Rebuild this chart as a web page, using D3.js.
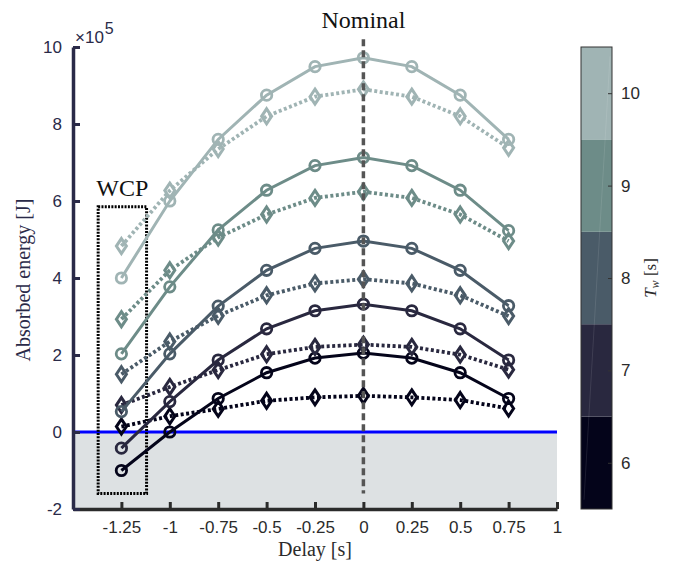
<!DOCTYPE html>
<html><head><meta charset="utf-8">
<script src="https://cdn.jsdelivr.net/npm/d3@7"></script>
<style>body{margin:0;background:#fff}svg{display:block}</style>
</head><body><svg id="c" width="683" height="565"></svg>
<script>
const delays = [-1.25, -1, -0.75, -0.5, -0.25, 0, 0.25, 0.5, 0.75];
const twValues = [6, 7, 8, 9, 10];
const twColors = ["#04041a", "#29283f", "#4a5b68", "#6d8c88", "#a0b4b4"];
// Absorbed energy (x 1e5 J), solid lines with circles
const solidTw6  = [-1.0, 0.0, 0.87, 1.54, 1.92, 2.05, 1.92, 1.54, 0.87];
const solidTw7  = [-0.42, 0.79, 1.87, 2.68, 3.15, 3.32, 3.15, 2.68, 1.87];
const solidTw8  = [0.53, 2.03, 3.27, 4.2, 4.77, 4.96, 4.77, 4.2, 3.28];
const solidTw9  = [2.03, 3.77, 5.25, 6.28, 6.92, 7.13, 6.92, 6.28, 5.23];
const solidTw10 = [4.0, 6.0, 7.6, 8.75, 9.49, 9.72, 9.49, 8.75, 7.6];
// dotted lines with diamonds
const dotTw6  = [0.14, 0.41, 0.6, 0.81, 0.9, 0.94, 0.9, 0.83, 0.61];
const dotTw7  = [0.7, 1.17, 1.61, 2.02, 2.21, 2.27, 2.21, 2.01, 1.62];
const dotTw8  = [1.5, 2.35, 3.02, 3.55, 3.86, 3.97, 3.86, 3.55, 3.01];
const dotTw9  = [2.93, 4.2, 5.05, 5.65, 6.08, 6.24, 6.08, 5.65, 4.96];
const dotTw10 = [4.83, 6.27, 7.35, 8.2, 8.71, 8.9, 8.71, 8.2, 7.38];
const xTicks = [-1.25, -1, -0.75, -0.5, -0.25, 0, 0.25, 0.5, 0.75, 1];
const xTickLabels = ["-1.25", "-1", "-0.75", "-0.5", "-0.25", "0", "0.25", "0.5", "0.75", "1"];
const yTicks = [-2, 0, 2, 4, 6, 8, 10];
const yTickLabels = ["-2", "0", "2", "4", "6", "8", "10"];
const cbTickLabels = ["6", "7", "8", "9", "10"];
const wcpBox = {x0: -1.37, x1: -1.12, y0: -1.6, y1: 5.85};

const solids = [solidTw6, solidTw7, solidTw8, solidTw9, solidTw10];
const dots = [dotTw6, dotTw7, dotTw8, dotTw9, dotTw10];

const SERIF = "'Liberation Serif', 'Times New Roman', serif";
const SANS = "'Liberation Sans', Arial, sans-serif";
const svg = d3.select("#c");
const x = d3.scaleLinear().domain([-1.5, 1]).range([73, 557]);
const y = d3.scaleLinear().domain([-2, 10]).range([509, 47]);
const navy = "#2a2a48";

// negative region
svg.append("rect").attr("x", x(-1.5)).attr("y", y(0)).attr("width", x(1) - x(-1.5))
  .attr("height", y(-2) - y(0)).attr("fill", "#dde1e3");
svg.append("line").attr("x1", x(-1.5)).attr("x2", x(1)).attr("y1", y(0)).attr("y2", y(0))
  .attr("stroke", "#0000ff").attr("stroke-width", 3);

// WCP box
svg.append("rect").attr("x", x(wcpBox.x0)).attr("y", y(wcpBox.y1))
  .attr("width", x(wcpBox.x1) - x(wcpBox.x0)).attr("height", y(wcpBox.y0) - y(wcpBox.y1))
  .attr("fill", "none").attr("stroke", "#000").attr("stroke-width", 3).attr("stroke-dasharray", "2,1.3");
svg.append("text").attr("x", (x(wcpBox.x0) + x(wcpBox.x1)) / 2).attr("y", y(wcpBox.y1) - 11)
  .attr("text-anchor", "middle").attr("font-family", SERIF).attr("font-size", 24)
  .attr("fill", "#111").text("WCP");

const line = d3.line().x((d, i) => x(delays[i])).y(d => y(d));
const diamond = (cx, cy) => `M${cx},${cy - 7.5}L${cx + 5},${cy}L${cx},${cy + 7.5}L${cx - 5},${cy}Z`;

twValues.forEach((tw, k) => {
  const col = twColors[k];
  const g = svg.append("g");
  g.append("path").attr("d", line(solids[k])).attr("fill", "none").attr("stroke", col).attr("stroke-width", 3);
  g.selectAll("circle").data(solids[k]).join("circle")
    .attr("cx", (d, i) => x(delays[i])).attr("cy", d => y(d)).attr("r", 5.2)
    .attr("fill", "none").attr("stroke", col).attr("stroke-width", 2.8);
  g.append("path").attr("d", line(dots[k])).attr("fill", "none").attr("stroke", col)
    .attr("stroke-width", 3.8).attr("stroke-dasharray", "3,2.5");
  g.selectAll("path.dm").data(dots[k]).join("path").attr("class", "dm")
    .attr("d", (d, i) => diamond(x(delays[i]), y(d)))
    .attr("fill", "none").attr("stroke", col).attr("stroke-width", 3).attr("stroke-linejoin", "miter");
});

// nominal line
svg.append("line").attr("x1", x(0)).attr("x2", x(0)).attr("y1", y(10.2)).attr("y2", y(-1.6))
  .attr("stroke", "#555").attr("stroke-width", 3.5).attr("stroke-dasharray", "7,4");
svg.append("text").attr("x", x(0)).attr("y", 28).attr("text-anchor", "middle")
  .attr("font-family", SERIF).attr("font-size", 24).attr("fill", "#111").text("Nominal");

// x axis
const xAxis = svg.append("g").attr("transform", `translate(0,${y(-2)})`)
  .call(d3.axisBottom(x).tickValues(xTicks).tickFormat((d, i) => xTickLabels[i]).tickSizeInner(-7).tickSizeOuter(0).tickPadding(12));
xAxis.select(".domain").attr("stroke", "#2b2b2b").attr("stroke-width", 3.5);
xAxis.selectAll(".tick line").attr("stroke", "#2b2b2b").attr("stroke-width", 3);
xAxis.selectAll(".tick text").attr("font-family", SANS).attr("font-size", 17).attr("fill", "#2b2b2b");

// y axis
const yAxis = svg.append("g").attr("transform", `translate(${x(-1.5)},0)`)
  .call(d3.axisLeft(y).tickValues(yTicks).tickFormat((d, i) => yTickLabels[i]).tickSizeInner(-7).tickSizeOuter(0).tickPadding(11));
yAxis.select(".domain").attr("stroke", navy).attr("stroke-width", 3.5);
yAxis.selectAll(".tick line").attr("stroke", navy).attr("stroke-width", 3);
yAxis.selectAll(".tick text").attr("font-family", SANS).attr("font-size", 17).attr("fill", navy);

// exponent
const ex = svg.append("text").attr("x", 75).attr("y", 43).attr("font-family", SANS)
  .attr("font-size", 17).attr("fill", navy);
ex.append("tspan").text("\u00d710");
ex.append("tspan").attr("dy", -9).attr("dx", 1).attr("font-size", 16).text("5");

// axis labels
svg.append("text").attr("transform", `translate(30,${(y(-2) + y(10)) / 2 + 2}) rotate(-90)`)
  .attr("text-anchor", "middle").attr("font-family", SERIF).attr("font-size", 20)
  .attr("fill", navy).text("Absorbed energy [J]");
svg.append("text").attr("x", (x(-1.5) + x(1)) / 2).attr("y", 556).attr("text-anchor", "middle")
  .attr("font-family", SERIF).attr("font-size", 20).attr("fill", "#2b2b2b").text("Delay [s]");

// colorbar
const cbX = 581, cbW = 31;
const cy = d3.scaleLinear().domain([5.5, 10.5]).range([509, 47]);
svg.selectAll("rect.cb").data(twValues).join("rect").attr("class", "cb")
  .attr("x", cbX).attr("y", d => cy(d + 0.5)).attr("width", cbW).attr("height", d => cy(d - 0.5) - cy(d + 0.5))
  .attr("fill", (d, i) => twColors[i]);
svg.append("line").attr("x1", cbX + 29).attr("y1", cy(10.4)).attr("x2", cbX + 3).attr("y2", cy(5.6))
  .attr("stroke", "#fff").attr("stroke-opacity", 0.15).attr("stroke-width", 0.7);
svg.append("rect").attr("x", cbX).attr("y", cy(10.5)).attr("width", cbW).attr("height", cy(5.5) - cy(10.5))
  .attr("fill", "none").attr("stroke", "#333").attr("stroke-width", 1);
const cbAxis = svg.append("g").attr("transform", `translate(${cbX + cbW},0)`)
  .call(d3.axisRight(cy).tickValues(twValues).tickFormat((d, i) => cbTickLabels[i]).tickSizeInner(-4).tickSizeOuter(0).tickPadding(9));
cbAxis.select(".domain").remove();
cbAxis.selectAll(".tick line").attr("stroke", "#333").attr("stroke-width", 1);
cbAxis.selectAll(".tick text").attr("font-family", SANS).attr("font-size", 17).attr("fill", "#2b2b2b");
const tl = svg.append("text").attr("transform", `translate(656,${(cy(5.5) + cy(10.5)) / 2}) rotate(-90)`)
  .attr("text-anchor", "middle").attr("font-family", SERIF).attr("font-size", 17).attr("fill", "#2b2b2b");
tl.append("tspan").attr("font-style", "italic").text("T");
tl.append("tspan").attr("font-style", "italic").attr("font-size", 12).attr("dy", 3).text("w");
tl.append("tspan").attr("dy", -3).text(" [s]");
</script></body></html>
